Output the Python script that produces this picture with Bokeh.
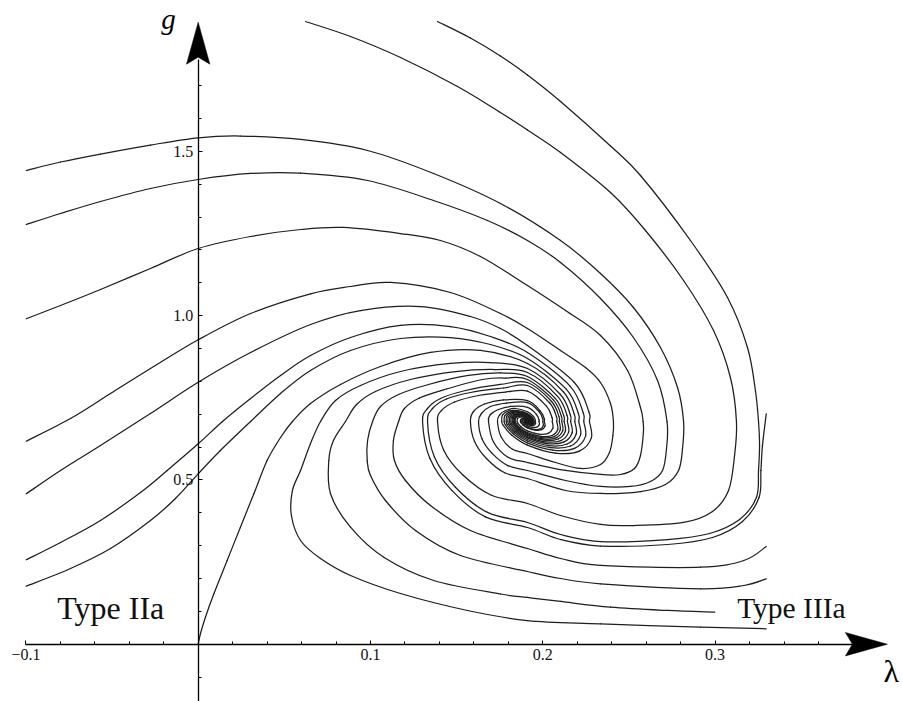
from bokeh.plotting import figure
from bokeh.models import LinearAxis, FixedTicker, Range1d, Label, PrintfTickFormatter
from bokeh.embed import file_html
from bokeh.resources import INLINE

# ---------------- digitized trajectories (lambda, g) ----------------
lam_B = [0.1389, 0.1580, 0.1754, 0.1911, 0.2103, 0.2393, 0.2567, 0.2857, 0.3072, 0.3188, 0.3234, 0.3252, 0.3258, 0.3252, 0.3240, 0.3142, 0.2968, 0.2724, 0.2335, 0.2103, 0.1911, 0.1679, 0.1493, 0.1371, 0.1331, 0.1360, 0.1441, 0.1580, 0.1772, 0.1911,
         0.2040, 0.2080, 0.2081, 0.2087, 0.2054, 0.1988, 0.1911, 0.1867, 0.1844, 0.1840, 0.1842, 0.1860, 0.1885, 0.1911, 0.1924, 0.1929, 0.1929, 0.1929, 0.1926, 0.1919, 0.1911, 0.1911]
g_B = [1.8956, 1.8454, 1.7906, 1.7327, 1.6521, 1.5166, 1.4268, 1.2289, 1.0554, 0.9032, 0.7723, 0.6779, 0.6049, 0.5288, 0.4466, 0.3796, 0.3370, 0.3187, 0.3126, 0.3339, 0.3705, 0.4012, 0.4779, 0.5702, 0.6779, 0.7175, 0.7464, 0.7662, 0.7799, 0.7875,
       0.7342, 0.6916, 0.6779, 0.6543, 0.6353, 0.6324, 0.6439, 0.6587, 0.6725, 0.6779, 0.6871, 0.6932, 0.6936, 0.6893, 0.6838, 0.6793, 0.6779, 0.6754, 0.6735, 0.6732, 0.6744, 0.6779]

lam_A = [0.0623, 0.0884, 0.1174, 0.1505, 0.1754, 0.1911, 0.2103, 0.2393, 0.2596, 0.2817, 0.2991, 0.3089, 0.3124, 0.3113, 0.3078, 0.2985, 0.2817, 0.2526, 0.2335, 0.2103, 0.1911, 0.1702, 0.1535, 0.1425, 0.1389, 0.1412, 0.1488, 0.1627, 0.1784, 0.1911,
         0.2020, 0.2054, 0.2055, 0.2059, 0.2031, 0.1976, 0.1911, 0.1874, 0.1855, 0.1851, 0.1853, 0.1868, 0.1889, 0.1911, 0.1922, 0.1926, 0.1926, 0.1926, 0.1924, 0.1918, 0.1911, 0.1911]
g_A = [1.8956, 1.8499, 1.7860, 1.6977, 1.6186, 1.5653, 1.4968, 1.3750, 1.2594, 1.1072, 0.9549, 0.8119, 0.6779, 0.5744, 0.4679, 0.4040, 0.3705, 0.3613, 0.3644, 0.3918, 0.4283, 0.4533, 0.5157, 0.5906, 0.6779, 0.7114, 0.7373, 0.7571, 0.7677, 0.7705,
       0.7254, 0.6895, 0.6779, 0.6579, 0.6419, 0.6395, 0.6492, 0.6617, 0.6733, 0.6779, 0.6857, 0.6909, 0.6911, 0.6876, 0.6829, 0.6791, 0.6779, 0.6758, 0.6741, 0.6739, 0.6749, 0.6779]

lam_L1 = [-0.0998, -0.0799, -0.0567, -0.0277, 0.0000, 0.0245, 0.0594, 0.0983, 0.1366, 0.1754, 0.2103, 0.2335, 0.2526, 0.2683, 0.2782, 0.2817, 0.2811, 0.2788, 0.2712, 0.2567, 0.2335, 0.2132, 0.1911, 0.1779, 0.1673, 0.1604, 0.1580, 0.1598, 0.1662, 0.1772, 0.1911,
          0.1985, 0.2009, 0.2009, 0.2013, 0.1993, 0.1955, 0.1911, 0.1886, 0.1873, 0.1870, 0.1871, 0.1881, 0.1896, 0.1911, 0.1919, 0.1921, 0.1921, 0.1911]
g_L1 = [1.4420, 1.4679, 1.4922, 1.5196, 1.5416, 1.5470, 1.5364, 1.5029, 1.4329, 1.3416, 1.2289, 1.1285, 1.0250, 0.9032, 0.7814, 0.6779, 0.5957, 0.5288, 0.4861, 0.4648, 0.4588, 0.4679, 0.5044, 0.5218, 0.5653, 0.6170, 0.6779, 0.7084, 0.7312, 0.7434, 0.7412,
        0.7104, 0.6858, 0.6779, 0.6642, 0.6533, 0.6516, 0.6583, 0.6668, 0.6748, 0.6779, 0.6832, 0.6868, 0.6869, 0.6845, 0.6813, 0.6787, 0.6779, 0.6779]

lam_L2 = [-0.0998, -0.0799, -0.0567, -0.0277, 0.0000, 0.0304, 0.0594, 0.0983, 0.1366, 0.1679, 0.1911, 0.2103, 0.2335, 0.2526, 0.2666, 0.2721, 0.2718, 0.2695, 0.2625, 0.2509, 0.2335, 0.2132, 0.1911, 0.1797, 0.1706, 0.1647, 0.1627, 0.1644, 0.1696, 0.1789, 0.1911,
          0.1979, 0.2000, 0.2000, 0.2003, 0.1986, 0.1951, 0.1911, 0.1888, 0.1876, 0.1874, 0.1875, 0.1884, 0.1897, 0.1911, 0.1918, 0.1920, 0.1911]
g_L2 = [1.2776, 1.3111, 1.3476, 1.3872, 1.4146, 1.4329, 1.4338, 1.4116, 1.3507, 1.2898, 1.2289, 1.1620, 1.0524, 0.9336, 0.8027, 0.6779, 0.5957, 0.5288, 0.4953, 0.4801, 0.4801, 0.4983, 0.5288, 0.5437, 0.5808, 0.6256, 0.6779, 0.7023, 0.7236, 0.7342, 0.7355,
        0.7075, 0.6851, 0.6779, 0.6655, 0.6555, 0.6540, 0.6601, 0.6678, 0.6751, 0.6779, 0.6827, 0.6860, 0.6861, 0.6839, 0.6810, 0.6787, 0.6779]

lam_L3 = [-0.0998, -0.0799, -0.0567, -0.0277, 0.0000, 0.0304, 0.0594, 0.0843, 0.1174, 0.1406, 0.1638, 0.1911, 0.2132, 0.2335, 0.2492, 0.2567, 0.2582, 0.2584, 0.2567, 0.2532, 0.2451, 0.2335, 0.2132, 0.1911, 0.1798, 0.1714, 0.1685, 0.1696, 0.1743, 0.1813, 0.1911,
          0.1962, 0.1978, 0.1978, 0.1980, 0.1967, 0.1941, 0.1911, 0.1894, 0.1885, 0.1883, 0.1884, 0.1891, 0.1901, 0.1911, 0.1911]
g_L3 = [0.9906, 1.0311, 1.0798, 1.1437, 1.2046, 1.2411, 1.2624, 1.2685, 1.2502, 1.2289, 1.1802, 1.0919, 1.0158, 0.9397, 0.8332, 0.7205, 0.6779, 0.6444, 0.5744, 0.5349, 0.5166, 0.5166, 0.5288, 0.5531, 0.5692, 0.6155, 0.6779, 0.6992, 0.7145, 0.7236, 0.7212,
        0.7001, 0.6833, 0.6779, 0.6686, 0.6611, 0.6600, 0.6645, 0.6703, 0.6758, 0.6779, 0.6815, 0.6840, 0.6841, 0.6824, 0.6779]

lam_L4 = [-0.0998, -0.0741, -0.0509, -0.0277, 0.0000, 0.0304, 0.0652, 0.0884, 0.1116, 0.1464, 0.1754, 0.1911, 0.2103, 0.2248, 0.2335, 0.2393, 0.2410, 0.2407, 0.2387, 0.2335, 0.2219, 0.2074, 0.1911, 0.1824, 0.1760, 0.1737, 0.1749, 0.1784, 0.1842, 0.1911,
          0.1946, 0.1957, 0.1957, 0.1958, 0.1949, 0.1932, 0.1911, 0.1899, 0.1893, 0.1892, 0.1893, 0.1897, 0.1904, 0.1911, 0.1911]
g_L4 = [0.6180, 0.6871, 0.7632, 0.8393, 0.9266, 1.0067, 1.0667, 1.0889, 1.1011, 1.0706, 1.0067, 0.9610, 0.8941, 0.8423, 0.7967, 0.7327, 0.6779, 0.6353, 0.5836, 0.5470, 0.5349, 0.5531, 0.5805, 0.5933, 0.6292, 0.6779, 0.6977, 0.7114, 0.7175, 0.7075,
        0.6931, 0.6816, 0.6779, 0.6715, 0.6664, 0.6656, 0.6687, 0.6727, 0.6764, 0.6779, 0.6804, 0.6820, 0.6821, 0.6810, 0.6779]

lam_L5 = [-0.0998, -0.0799, -0.0567, -0.0277, 0.0000, 0.0304, 0.0652, 0.0942, 0.1290, 0.1580, 0.1754, 0.1911,
          0.2183, 0.2268, 0.2271, 0.2282, 0.2212, 0.2073, 0.1911, 0.1818, 0.1770, 0.1762, 0.1766, 0.1803, 0.1855, 0.1911,
          0.1939, 0.1948, 0.1949, 0.1950, 0.1942, 0.1928, 0.1911, 0.1901, 0.1896, 0.1895, 0.1896, 0.1900, 0.1905, 0.1911, 0.1911]
g_L5 = [0.4578, 0.5288, 0.6049, 0.7023, 0.7976, 0.8880, 0.9732, 1.0158, 1.0280, 0.9976, 0.9610, 0.9093,
        0.7967, 0.7068, 0.6779, 0.6280, 0.5879, 0.5818, 0.6062, 0.6374, 0.6665, 0.6779, 0.6974, 0.7103, 0.7109, 0.7021,
        0.6903, 0.6809, 0.6779, 0.6727, 0.6685, 0.6679, 0.6704, 0.6737, 0.6767, 0.6779, 0.6799, 0.6813, 0.6814, 0.6804, 0.6779]

lam_L6 = [-0.0998, -0.0799, -0.0567, -0.0335, -0.0180, 0.0000, 0.0141, 0.0304, 0.0478, 0.0652, 0.0884, 0.1174, 0.1464, 0.1696, 0.1911,
          0.2158, 0.2235, 0.2238, 0.2248, 0.2184, 0.2058, 0.1911, 0.1827, 0.1783, 0.1776, 0.1780, 0.1813, 0.1860, 0.1911,
          0.1937, 0.1945, 0.1945, 0.1946, 0.1940, 0.1926, 0.1911, 0.1902, 0.1898, 0.1897, 0.1897, 0.1901, 0.1906, 0.1911, 0.1911]
g_L6 = [0.2569, 0.3096, 0.3766, 0.4618, 0.5288, 0.6100, 0.6779, 0.7479, 0.8180, 0.8788, 0.9336, 0.9702, 0.9671, 0.9367, 0.8880,
        0.7858, 0.7041, 0.6779, 0.6326, 0.5962, 0.5907, 0.6128, 0.6411, 0.6676, 0.6779, 0.6956, 0.7073, 0.7079, 0.6998,
        0.6892, 0.6806, 0.6779, 0.6732, 0.6694, 0.6688, 0.6711, 0.6741, 0.6768, 0.6779, 0.6797, 0.6810, 0.6810, 0.6802, 0.6779]

lam_L7 = [-0.0998, -0.0741, -0.0509, -0.0277, -0.0132, 0.0000, 0.0129, 0.0304, 0.0478, 0.0652, 0.0884, 0.1174, 0.1464, 0.1696, 0.1911,
          0.2136, 0.2207, 0.2209, 0.2219, 0.2161, 0.2045, 0.1911, 0.1834, 0.1794, 0.1788, 0.1791, 0.1821, 0.1865, 0.1911,
          0.1935, 0.1942, 0.1942, 0.1943, 0.1937, 0.1925, 0.1911, 0.1903, 0.1899, 0.1898, 0.1898, 0.1902, 0.1906, 0.1911, 0.1911]
g_L7 = [0.1766, 0.2304, 0.2913, 0.3766, 0.4435, 0.5187, 0.5896, 0.6779, 0.7632, 0.8332, 0.8941, 0.9306, 0.9336, 0.9123, 0.8697,
        0.7764, 0.7018, 0.6779, 0.6365, 0.6033, 0.5983, 0.6185, 0.6443, 0.6685, 0.6779, 0.6940, 0.7048, 0.7053, 0.6979,
        0.6882, 0.6804, 0.6779, 0.6736, 0.6701, 0.6696, 0.6717, 0.6744, 0.6769, 0.6779, 0.6796, 0.6807, 0.6808, 0.6800, 0.6779]

lam_O = [0.0000, 0.0013, 0.0042, 0.0091, 0.0168, 0.0245, 0.0323, 0.0400, 0.0478, 0.0547, 0.0652, 0.0826, 0.1058, 0.1348, 0.1638, 0.1911,
         0.2119, 0.2183, 0.2186, 0.2194, 0.2141, 0.2035, 0.1911, 0.1840, 0.1804, 0.1797, 0.1801, 0.1828, 0.1868, 0.1911,
         0.1933, 0.1939, 0.1940, 0.1941, 0.1935, 0.1924, 0.1911, 0.1904, 0.1900, 0.1899, 0.1899, 0.1902, 0.1907, 0.1911, 0.1911]
g_O = [0.0000, 0.0317, 0.0822, 0.1534, 0.2548, 0.3562, 0.4578, 0.5592, 0.6292, 0.6779, 0.7327, 0.7906, 0.8454, 0.8880, 0.8941, 0.8545,
       0.7686, 0.6999, 0.6779, 0.6398, 0.6093, 0.6046, 0.6232, 0.6470, 0.6692, 0.6779, 0.6928, 0.7026, 0.7031, 0.6963,
       0.6874, 0.6802, 0.6779, 0.6739, 0.6707, 0.6702, 0.6722, 0.6747, 0.6770, 0.6779, 0.6795, 0.6805, 0.6805, 0.6798, 0.6779]

lam_R5 = [0.3297, 0.2915, 0.2335, 0.1911, 0.1563, 0.1174, 0.0884, 0.0710, 0.0594, 0.0541, 0.0547, 0.0594, 0.0652, 0.0710, 0.0797, 0.0942, 0.1174, 0.1464, 0.1696, 0.1911,
          0.2101, 0.2160, 0.2162, 0.2170, 0.2121, 0.2024, 0.1911, 0.1846, 0.1813, 0.1807, 0.1810, 0.1835, 0.1872, 0.1911,
          0.1931, 0.1937, 0.1937, 0.1938, 0.1933, 0.1923, 0.1911, 0.1904, 0.1901, 0.1900, 0.1900, 0.1903, 0.1907, 0.1911, 0.1911]
g_R5 = [0.0469, 0.0518, 0.0621, 0.0721, 0.1026, 0.1543, 0.2091, 0.2609, 0.3157, 0.3918, 0.4679, 0.5288, 0.6110, 0.6779, 0.7419, 0.7875, 0.8301, 0.8545, 0.8575, 0.8393,
        0.7608, 0.6980, 0.6779, 0.6431, 0.6152, 0.6109, 0.6279, 0.6497, 0.6700, 0.6779, 0.6915, 0.7005, 0.7009, 0.6948,
        0.6866, 0.6800, 0.6779, 0.6743, 0.6714, 0.6709, 0.6727, 0.6750, 0.6771, 0.6779, 0.6793, 0.6803, 0.6803, 0.6797, 0.6779]

lam_R4 = [0.2998, 0.2722, 0.2393, 0.2103, 0.1911, 0.1754, 0.1367, 0.1077, 0.0884, 0.0768, 0.0758, 0.0785, 0.0855, 0.0919, 0.1029, 0.1232, 0.1493, 0.1725, 0.1911,
          0.2086, 0.2141, 0.2143, 0.2150, 0.2105, 0.2015, 0.1911, 0.1851, 0.1820, 0.1815, 0.1818, 0.1841, 0.1875, 0.1911,
          0.1929, 0.1935, 0.1935, 0.1936, 0.1931, 0.1922, 0.1911, 0.1905, 0.1902, 0.1901, 0.1901, 0.1904, 0.1907, 0.1911, 0.1911]
g_R4 = [0.0974, 0.1026, 0.1126, 0.1300, 0.1422, 0.1528, 0.1939, 0.2648, 0.3562, 0.4578, 0.5592, 0.6201, 0.6779, 0.7297, 0.7693, 0.8058, 0.8301, 0.8362, 0.8271,
        0.7545, 0.6965, 0.6779, 0.6457, 0.6199, 0.6159, 0.6317, 0.6518, 0.6706, 0.6779, 0.6905, 0.6988, 0.6992, 0.6935,
        0.6859, 0.6798, 0.6779, 0.6745, 0.6718, 0.6714, 0.6731, 0.6752, 0.6771, 0.6779, 0.6792, 0.6801, 0.6801, 0.6795, 0.6779]

lam_R3 = [0.3297, 0.3167, 0.2915, 0.2335, 0.2103, 0.1911, 0.1522, 0.1261, 0.1087, 0.1000, 0.0981, 0.0983, 0.1012, 0.1058, 0.1163, 0.1337, 0.1569, 0.1754, 0.1911,
          0.2072, 0.2122, 0.2124, 0.2131, 0.2089, 0.2007, 0.1911, 0.1856, 0.1828, 0.1823, 0.1825, 0.1847, 0.1878, 0.1911,
          0.1928, 0.1933, 0.1933, 0.1934, 0.1930, 0.1921, 0.1911, 0.1905, 0.1902, 0.1902, 0.1902, 0.1904, 0.1908, 0.1911, 0.1911]
g_R3 = [0.1991, 0.1787, 0.1686, 0.1839, 0.2000, 0.2213, 0.2700, 0.3461, 0.4374, 0.5135, 0.5592, 0.6201, 0.6779, 0.7236, 0.7601, 0.7906, 0.8180, 0.8256, 0.8149,
        0.7483, 0.6950, 0.6779, 0.6484, 0.6246, 0.6210, 0.6355, 0.6539, 0.6712, 0.6779, 0.6894, 0.6971, 0.6975, 0.6922,
        0.6852, 0.6797, 0.6779, 0.6748, 0.6723, 0.6720, 0.6735, 0.6754, 0.6772, 0.6779, 0.6791, 0.6799, 0.6799, 0.6794, 0.6779]

lam_R2 = [0.3297, 0.3167, 0.2915, 0.2335, 0.2103, 0.1911, 0.1580, 0.1348, 0.1203, 0.1139, 0.1133, 0.1163, 0.1197, 0.1284, 0.1441, 0.1650, 0.1784, 0.1911,
          0.2061, 0.2108, 0.2110, 0.2116, 0.2077, 0.2000, 0.1911, 0.1860, 0.1833, 0.1829, 0.1831, 0.1851, 0.1880, 0.1911,
          0.1927, 0.1932, 0.1932, 0.1932, 0.1928, 0.1920, 0.1911, 0.1906, 0.1903, 0.1902, 0.1903, 0.1905, 0.1908, 0.1911, 0.1911]
g_R2 = [0.2974, 0.2548, 0.2344, 0.2396, 0.2609, 0.2913, 0.3461, 0.4222, 0.4983, 0.5592, 0.6201, 0.6779, 0.7175, 0.7495, 0.7769, 0.8058, 0.8103, 0.8058,
        0.7436, 0.6939, 0.6779, 0.6503, 0.6282, 0.6248, 0.6383, 0.6555, 0.6716, 0.6779, 0.6887, 0.6958, 0.6962, 0.6913,
        0.6848, 0.6796, 0.6779, 0.6750, 0.6727, 0.6724, 0.6738, 0.6756, 0.6772, 0.6779, 0.6790, 0.6798, 0.6798, 0.6793, 0.6779]

lam_R1 = [0.3297, 0.3275, 0.3266, 0.3255, 0.3159, 0.2985, 0.2724, 0.2335, 0.2103, 0.1911, 0.1667, 0.1472, 0.1345, 0.1302, 0.1331, 0.1406, 0.1551, 0.1754, 0.1911,
          0.2051, 0.2094, 0.2096, 0.2101, 0.2066, 0.1994, 0.1911, 0.1863, 0.1839, 0.1835, 0.1837, 0.1855, 0.1882, 0.1911,
          0.1926, 0.1930, 0.1930, 0.1931, 0.1927, 0.1920, 0.1911, 0.1906, 0.1903, 0.1903, 0.1903, 0.1905, 0.1908, 0.1911, 0.1911]
g_R1 = [0.7014, 0.6049, 0.5288, 0.4466, 0.3735, 0.3248, 0.3035, 0.2989, 0.3187, 0.3553, 0.3875, 0.4682, 0.5650, 0.6779, 0.7175, 0.7479, 0.7723, 0.7906, 0.7967,
        0.7389, 0.6927, 0.6779, 0.6523, 0.6317, 0.6286, 0.6411, 0.6571, 0.6721, 0.6779, 0.6879, 0.6945, 0.6949, 0.6903,
        0.6843, 0.6795, 0.6779, 0.6752, 0.6731, 0.6728, 0.6741, 0.6757, 0.6773, 0.6779, 0.6789, 0.6796, 0.6797, 0.6792, 0.6779]

trajectories = [(lam_B, g_B), (lam_A, g_A), (lam_L1, g_L1), (lam_L2, g_L2), (lam_L3, g_L3),
                (lam_L4, g_L4), (lam_L5, g_L5), (lam_L6, g_L6), (lam_L7, g_L7), (lam_O, g_O),
                (lam_R5, g_R5), (lam_R4, g_R4), (lam_R3, g_R3), (lam_R2, g_R2), (lam_R1, g_R1)]

# ---------------- axes / ticks ----------------
x_major = [-0.1, 0.1, 0.2, 0.3]
x_minor = [-0.08, -0.06, -0.04, -0.02, 0.02, 0.04, 0.06, 0.08, 0.12, 0.14, 0.16, 0.18,
           0.22, 0.24, 0.26, 0.28, 0.32, 0.34, 0.36]
x_labels = {-0.1: "\u22120.1", 0.1: "0.1", 0.2: "0.2", 0.3: "0.3"}
y_major = [0.5, 1.0, 1.5]
y_minor = [-0.1, 0.1, 0.2, 0.3, 0.4, 0.6, 0.7, 0.8, 0.9, 1.1, 1.2, 1.3, 1.4, 1.6, 1.7]
y_labels = {0.5: "0.5", 1.0: "1.0", 1.5: "1.5"}

X_START, X_END = -0.11474, 0.40935
Y_START, Y_END = -0.17443, 1.95951
W, H = 903, 701
X_TIP, Y_TIP = 0.4, 1.8935

p = figure(width=W, height=H, x_range=Range1d(X_START, X_END), y_range=Range1d(Y_START, Y_END),
           x_axis_type=None, y_axis_type=None, toolbar_location=None, output_backend="svg",
           min_border=0, outline_line_color=None, background_fill_color="white",
           border_fill_color="white")


def bezier_segments(xs, ys):
    """Smooth drawing through the read points (the points themselves are unchanged)."""
    n = len(xs)
    seg = {k: [] for k in ("x0", "y0", "x1", "y1", "cx0", "cy0", "cx1", "cy1")}
    for i in range(n - 1):
        im = max(i - 1, 0)
        ip = min(i + 2, n - 1)
        seg["x0"].append(xs[i]); seg["y0"].append(ys[i])
        seg["x1"].append(xs[i + 1]); seg["y1"].append(ys[i + 1])
        seg["cx0"].append(xs[i] + (xs[i + 1] - xs[im]) / 6.0)
        seg["cy0"].append(ys[i] + (ys[i + 1] - ys[im]) / 6.0)
        seg["cx1"].append(xs[i + 1] - (xs[ip] - xs[i]) / 6.0)
        seg["cy1"].append(ys[i + 1] - (ys[ip] - ys[i]) / 6.0)
    return seg


for lam, gg in trajectories:
    s = bezier_segments(lam, gg)
    p.bezier(x0=s["x0"], y0=s["y0"], x1=s["x1"], y1=s["y1"],
             cx0=s["cx0"], cy0=s["cy0"], cx1=s["cx1"], cy1=s["cy1"],
             line_color="#1e1e1e", line_width=1.25, line_cap="round")

FONT = "Liberation Serif"

xaxis = LinearAxis(fixed_location=0, bounds=(-0.1, 0.383),
                   ticker=FixedTicker(ticks=x_major, minor_ticks=x_minor),
                   formatter=PrintfTickFormatter(format="%.1f"),
                   major_label_overrides=x_labels)
yaxis = LinearAxis(fixed_location=0, bounds=(-0.2, 1.78),
                   ticker=FixedTicker(ticks=y_major, minor_ticks=y_minor),
                   formatter=PrintfTickFormatter(format="%.1f"),
                   major_label_overrides=y_labels)
for ax in (xaxis, yaxis):
    ax.axis_line_color = "black"
    ax.axis_line_width = 1.3
    ax.major_tick_in = 4
    ax.major_tick_out = 0
    ax.minor_tick_in = 3
    ax.minor_tick_out = 0
    ax.major_tick_line_color = "black"
    ax.minor_tick_line_color = "black"
    ax.major_label_text_font = FONT
    ax.major_label_text_font_size = "16px"
    ax.major_label_text_color = "#111111"
    ax.major_label_standoff = 5
p.add_layout(xaxis, "below")
p.add_layout(yaxis, "left")

# arrow heads (sizes in screen pixels, converted with the plot scale)
ppl = W / (X_END - X_START)
ppg = H / (Y_END - Y_START)
A_LEN, A_HALF, A_NOTCH = 42.0, 11.7, 35.0
p.patch([X_TIP, X_TIP - A_LEN / ppl, X_TIP - A_NOTCH / ppl, X_TIP - A_LEN / ppl],
        [0, A_HALF / ppg, 0, -A_HALF / ppg], color="black", line_width=0.5)
p.patch([0, A_HALF / ppl, 0, -A_HALF / ppl],
        [Y_TIP, Y_TIP - A_LEN / ppg, Y_TIP - A_NOTCH / ppg, Y_TIP - A_LEN / ppg],
        color="black", line_width=0.5)

p.add_layout(Label(x=-0.0215, y=1.9047, text="g", text_font=FONT, text_font_style="italic",
                   text_font_size="29px", text_color="black", text_baseline="alphabetic"))
p.add_layout(Label(x=0.3977, y=-0.0831, text="\u03bb", text_font=FONT,
                   text_font_size="32px", text_color="black", text_baseline="alphabetic"))
p.add_layout(Label(x=-0.0818, y=0.1117, text="Type IIa", text_font=FONT,
                   text_font_size="32px", text_color="#111111", text_baseline="alphabetic"))
p.add_layout(Label(x=0.3128, y=0.1117, text="Type IIIa", text_font=FONT,
                   text_font_size="29.5px", text_color="#111111", text_baseline="alphabetic"))

open("out.html", "w").write(file_html(p, INLINE))
